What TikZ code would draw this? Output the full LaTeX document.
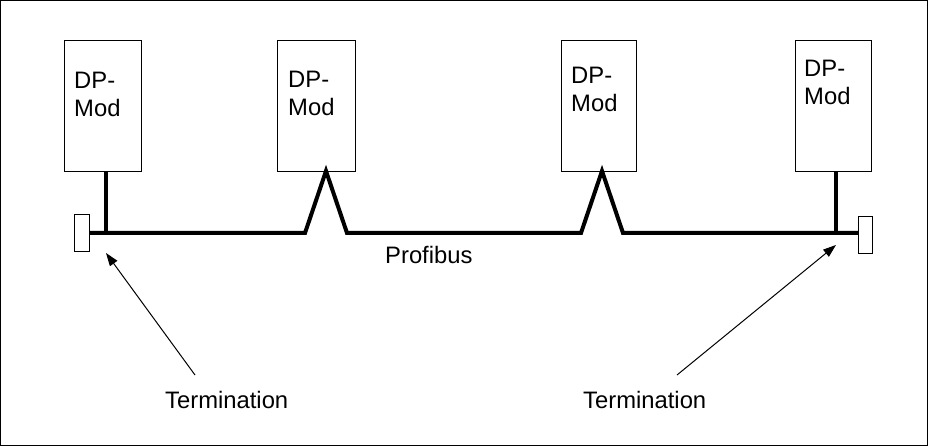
\documentclass[tikz,border=0pt]{standalone}
\usepackage{fontspec}
\setmainfont{Liberation Sans}
\usetikzlibrary{arrows.meta}
\begin{document}
\begin{tikzpicture}[x=1pt,y=-1pt,
  modbox/.style={draw,line width=1pt,rectangle,minimum width=77pt,minimum height=131pt,anchor=north west,inner sep=0pt},
  termbox/.style={draw,line width=0.9pt,rectangle,fill=white,minimum width=15pt,minimum height=37pt,anchor=north west,inner sep=0pt},
  lbl/.style={font=\fontsize{23.8}{28}\selectfont,anchor=base west,inner sep=0pt},
  modtxt/.style={font=\fontsize{23.8}{28}\selectfont,anchor=base west,inner sep=0pt,align=left},
  bus/.style={line width=4pt,line join=miter},
  arr/.style={line width=1pt,-{Triangle[length=13pt,width=9pt]}}]
\useasboundingbox (0,0) rectangle (928,446);
\draw[line width=1pt] (0.5,0.5) rectangle (927.5,445.5);
% modules
\node[modbox] (m1) at (64,40) {};
\node[modbox,minimum width=78pt] (m2) at (277,40) {};
\node[modbox,minimum width=75pt] (m3) at (561,40) {};
\node[modbox,minimum width=76pt] (m4) at (795,40) {};
\node[modtxt] (t1) at (74,89) {DP-};
\node[modtxt] (u1) at (74,117) {Mod};
\node[modtxt] (t2) at (288,88) {DP-};
\node[modtxt] (u2) at (288,116) {Mod};
\node[modtxt] (t3) at (571,84) {DP-};
\node[modtxt] (u3) at (571,112) {Mod};
\node[modtxt] (t4) at (804,77) {DP-};
\node[modtxt] (u4) at (804,105) {Mod};
% terminators
\node[termbox] (tl) at (74,214) {};
\node[termbox,minimum width=14pt] (tr) at (858,216) {};
% bus coordinates
\coordinate (j1) at (106,233);
\coordinate (a1) at (305,233);
\coordinate (p1) at (326,171);
\coordinate (b1) at (347,233);
\coordinate (a2) at (581,233);
\coordinate (p2) at (602,171);
\coordinate (b2) at (623,233);
\coordinate (j4) at (836,233);
\draw[bus] (tl.east |- j1) -- (a1) -- (p1) -- (b1) -- (a2) -- (p2) -- (b2) -- (tr.west |- j4);
\draw[bus] (m1.south -| j1) -- (j1);
\draw[bus] (m4.south -| j4) -- (j4);
% labels
\node[lbl] (pb) at (385,263) {Profibus};
\node[lbl] (tm1) at (165,408) {Termination};
\node[lbl] (tm2) at (583,408) {Termination};
\coordinate (s1) at (195,375);
\coordinate (e1) at (106,253);
\coordinate (s2) at (677,375);
\coordinate (e2) at (836,245);
\draw[arr] (s1) -- (e1);
\draw[arr] (s2) -- (e2);
\end{tikzpicture}
\end{document}
